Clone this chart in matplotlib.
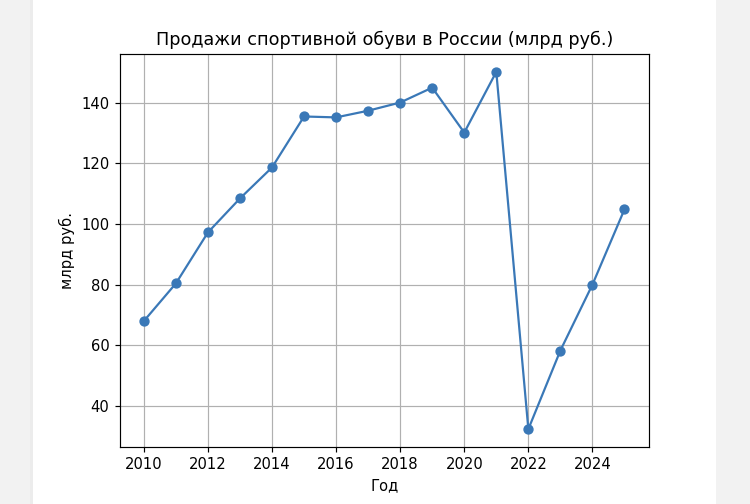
import matplotlib
matplotlib.use("Agg")
import matplotlib.pyplot as plt
from matplotlib.patches import Rectangle

years = [2010, 2011, 2012, 2013, 2014, 2015, 2016, 2017, 2018, 2019, 2020, 2021, 2022, 2023, 2024, 2025]
sales = [68.0, 80.4, 97.2, 108.4, 118.6, 135.4, 135.1, 137.3, 140.0, 144.9, 130.1, 150.1, 32.4, 58.3, 80.0, 104.8]

title = "Продажи спортивной обуви в России (млрд руб.)"
xlabel = "Год"
ylabel = "млрд руб."

DPI = 106
fig = plt.figure(figsize=(750 / DPI, 504 / DPI), dpi=DPI)
fig.patch.set_facecolor("#f2f2f2")
# white page area
fig.patches.append(Rectangle((33 / 750, 0), (716 - 33) / 750, 1, transform=fig.transFigure,
                             facecolor="white", edgecolor="none", zorder=-10))
for i in range(3):
    fig.patches.append(Rectangle(((33 - 3 + i) / 750, 0), 1 / 750, 1, transform=fig.transFigure,
                                 facecolor="#e8e8e8", edgecolor="none", zorder=-10, alpha=0.5))

ax = fig.add_axes([119.8 / 750, 57 / 504, (648.5 - 119.8) / 750, (447 - 54) / 504])
ax.set_zorder(5)
ax.plot(years, sales, marker="o", color="#3a78b7", linewidth=1.5, markersize=6)
ax.set_title(title, fontsize=12)
ax.set_xlabel(xlabel, fontsize=10)
ax.set_ylabel(ylabel, fontsize=10)
ax.grid(True, color="#b0b0b0", linewidth=0.8)
ax.set_axisbelow(True)

fig.savefig("out.png", dpi=DPI, facecolor=fig.get_facecolor())
